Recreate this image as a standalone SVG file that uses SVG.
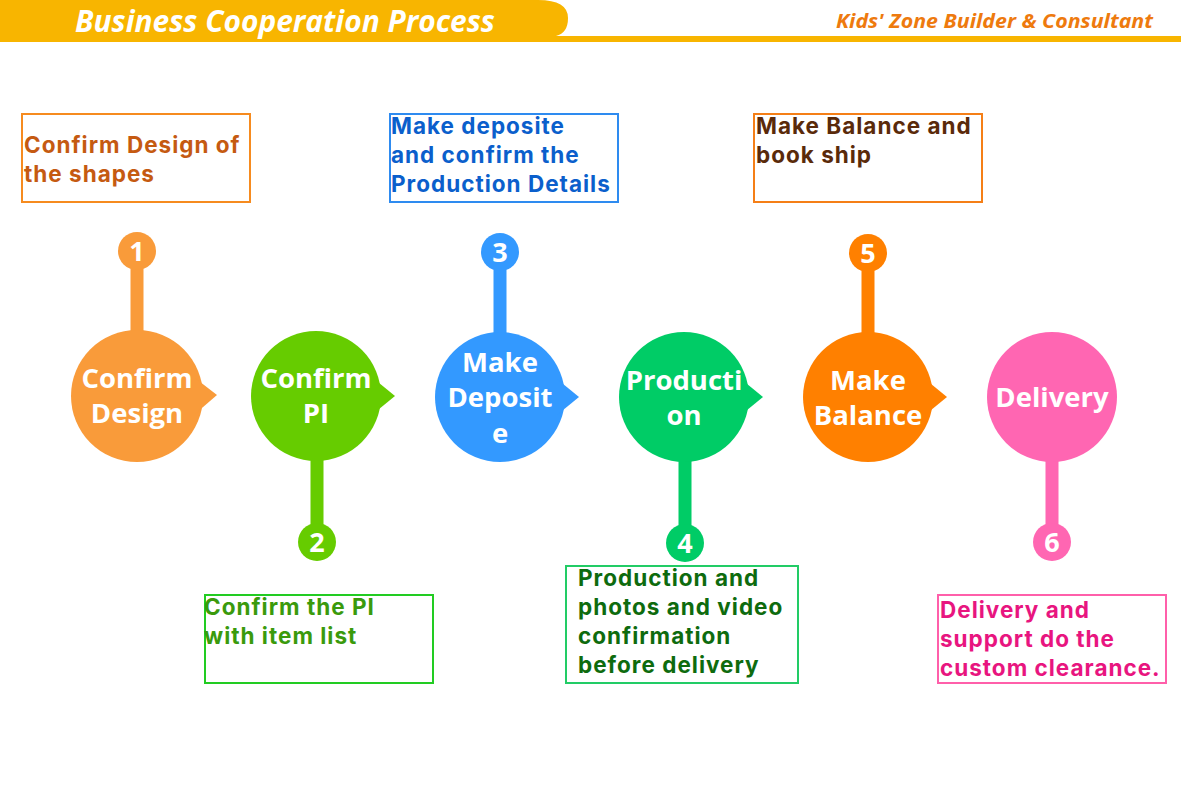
<svg xmlns="http://www.w3.org/2000/svg" width="1181" height="788" viewBox="0 0 1181 788">
<style>
.box{fill:#fff;stroke-width:2}
.bt{font-family:Inter,"Open Sans",sans-serif;font-weight:700;font-size:22.5px;letter-spacing:1px}
.ct{font-family:"Open Sans","Noto Sans",sans-serif;font-weight:700;font-size:27.5px;fill:#fff;text-anchor:middle}
.nt{font-family:"Open Sans","Noto Sans",sans-serif;font-weight:700;font-size:27px;fill:#fff;text-anchor:middle}
.stem{stroke-width:13;fill:none}
</style>
<rect width="1181" height="788" fill="#fff"/>
<g id="header">
<path d="M0,0 H538 Q568,0 568,18 Q568,33 556,36 H1181 V42 H0 Z" fill="#F8B500"/>
<text x="75" y="32" font-family="Open Sans, sans-serif" font-weight="700" font-style="italic" font-size="30" fill="#fff" textLength="420" lengthAdjust="spacingAndGlyphs">Business Cooperation Process</text>
<text x="836" y="28" font-family="Open Sans, sans-serif" font-weight="700" font-style="italic" font-size="19" fill="#EE7A0E" textLength="317" lengthAdjust="spacingAndGlyphs">Kids' Zone Builder &amp; Consultant</text>
</g>
<g id="connectors">
<line class="stem" x1="137" y1="251" x2="137" y2="340" stroke="#F99B3A"/>
<line class="stem" x1="317" y1="450" x2="317" y2="542" stroke="#66CC00"/>
<line class="stem" x1="500" y1="252" x2="500" y2="340" stroke="#3399FF"/>
<line class="stem" x1="685" y1="450" x2="685" y2="543" stroke="#00CC66"/>
<line class="stem" x1="868" y1="253" x2="868" y2="340" stroke="#FF8000"/>
<line class="stem" x1="1052" y1="450" x2="1052" y2="542" stroke="#FF66B2"/>
</g>
<g id="step1">
<circle cx="137" cy="396" r="66" fill="#F99B3A"/>
<path d="M195,378 L217,395 L195,414 Z" fill="#F99B3A"/>
<text class="ct" x="137" y="388">Confirm</text>
<text class="ct" x="137" y="423">Design</text>
<circle cx="137" cy="251" r="19" fill="#F99B3A"/>
<text class="nt" x="137" y="261">1</text>
</g>
<g id="step2">
<circle cx="316" cy="396" r="65" fill="#66CC00"/>
<path d="M373,378 L395,396 L373,414 Z" fill="#66CC00"/>
<text class="ct" x="316" y="388">Confirm</text>
<text class="ct" x="316" y="423">PI</text>
<circle cx="317" cy="542" r="19" fill="#66CC00"/>
<text class="nt" x="317" y="552">2</text>
</g>
<g id="step3">
<circle cx="500" cy="397" r="65" fill="#3399FF"/>
<path d="M557,379 L579,397 L557,415 Z" fill="#3399FF"/>
<text class="ct" x="500" y="372">Make</text>
<text class="ct" x="500" y="407">Deposit</text>
<text class="ct" x="500" y="443">e</text>
<circle cx="500" cy="252" r="19" fill="#3399FF"/>
<text class="nt" x="500" y="262">3</text>
</g>
<g id="step4">
<circle cx="684" cy="397" r="65" fill="#00CC66"/>
<path d="M741,379 L763,397 L741,415 Z" fill="#00CC66"/>
<text class="ct" x="684" y="390">Producti</text>
<text class="ct" x="684" y="425">on</text>
<circle cx="685" cy="543" r="19" fill="#00CC66"/>
<text class="nt" x="685" y="553">4</text>
</g>
<g id="step5">
<circle cx="868" cy="397" r="65" fill="#FF8000"/>
<path d="M925,379 L947,397 L925,415 Z" fill="#FF8000"/>
<text class="ct" x="868" y="390">Make</text>
<text class="ct" x="868" y="425">Balance</text>
<circle cx="868" cy="253" r="19" fill="#FF8000"/>
<text class="nt" x="868" y="263">5</text>
</g>
<g id="step6">
<circle cx="1052" cy="397" r="65" fill="#FF66B2"/>
<text class="ct" x="1052" y="407">Delivery</text>
<circle cx="1052" cy="542" r="19" fill="#FF66B2"/>
<text class="nt" x="1052" y="552">6</text>
</g>
<g id="box1">
<rect class="box" x="22" y="114" width="228" height="88" stroke="#F68B1F"/>
<text class="bt" fill="#C55A11"><tspan x="24" y="153">Confirm Design of</tspan><tspan x="24" y="182">the shapes</tspan></text>
</g>
<g id="box3">
<rect class="box" x="390" y="114" width="228" height="88" stroke="#2E8BF0"/>
<text class="bt" fill="#0B5FCC"><tspan x="391" y="134">Make deposite</tspan><tspan x="391" y="163">and confirm the</tspan><tspan x="391" y="192">Production Details</tspan></text>
</g>
<g id="box5">
<rect class="box" x="754" y="114" width="228" height="88" stroke="#F57F17"/>
<text class="bt" fill="#5A2A0A"><tspan x="756" y="134">Make Balance and</tspan><tspan x="756" y="163">book ship</tspan></text>
</g>
<g id="box2">
<rect class="box" x="205" y="595" width="228" height="88" stroke="#22CC22"/>
<text class="bt" fill="#3A9A0C"><tspan x="204" y="615">Confirm the PI</tspan><tspan x="204" y="644">with item list</tspan></text>
</g>
<g id="box4">
<rect class="box" x="566" y="566" width="232" height="117" stroke="#22CC66"/>
<text class="bt" fill="#0E6B0E"><tspan x="578" y="586">Production and</tspan><tspan x="578" y="615">photos and video</tspan><tspan x="578" y="644">confirmation</tspan><tspan x="578" y="673">before delivery</tspan></text>
</g>
<g id="box6">
<rect class="box" x="938" y="595" width="228" height="88" stroke="#FF5FAA"/>
<text class="bt" fill="#E8157F"><tspan x="940" y="618">Delivery and</tspan><tspan x="940" y="647">support do the</tspan><tspan x="940" y="676">custom clearance.</tspan></text>
</g>
</svg>
